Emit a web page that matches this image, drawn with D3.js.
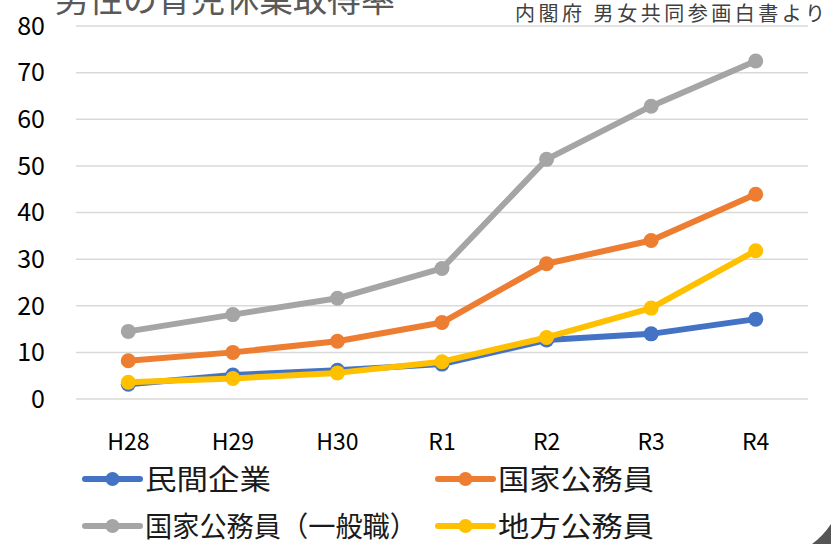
<!DOCTYPE html>
<html>
<head>
<meta charset="utf-8">
<script src="https://cdn.jsdelivr.net/npm/d3@7"></script>
<style>
  body { margin: 0; background: #fff; }
  svg { display: block; font-family: "Noto Sans CJK JP", "Noto Sans", sans-serif; }
</style>
</head>
<body>
<svg id="chart" width="831" height="544"></svg>
<script>
const categories = ['H28', 'H29', 'H30', 'R1', 'R2', 'R3', 'R4'];
const seriesNames = ['民間企業', '国家公務員', '国家公務員（一般職）', '地方公務員'];
const minkan   = [3.16, 5.14, 6.16, 7.48, 12.65, 13.97, 17.13];
const kokka    = [8.2, 10.0, 12.4, 16.4, 29.0, 34.0, 43.9];
const ippan    = [14.5, 18.1, 21.6, 28.0, 51.4, 62.8, 72.5];
const chihou   = [3.6, 4.4, 5.6, 8.0, 13.2, 19.5, 31.8];
const yTicks   = [0, 10, 20, 30, 40, 50, 60, 70, 80];
const colors   = ['#4472C4', '#ED7D31', '#A5A5A5', '#FFC000'];

const series = [minkan, kokka, ippan, chihou].map((v, i) => ({name: seriesNames[i], values: v, color: colors[i]}));

const svg = d3.select('#chart');

const x = d3.scaleBand().domain(categories).range([76, 808]);
const y = d3.scaleLinear().domain([0, 80]).range([399, 26]);
const cx = d => x(d) + x.bandwidth() / 2;

// gridlines
svg.append('g')
    .selectAll('line')
    .data(yTicks)
  .join('line')
    .attr('x1', 76).attr('x2', 808)
    .attr('y1', d => y(d)).attr('y2', d => y(d))
    .attr('stroke', '#d9d9d9')
    .attr('stroke-width', 1.5);

// y labels
svg.append('g')
    .selectAll('text')
    .data(yTicks)
  .join('text')
    .attr('x', 45)
    .attr('y', d => y(d))
    .attr('dy', '0.35em')
    .attr('text-anchor', 'end')
    .attr('font-size', 25)
    .attr('fill', '#000')
    .text(d => d);

// x labels
svg.append('g')
    .selectAll('text')
    .data(categories)
  .join('text')
    .attr('x', cx)
    .attr('y', 450)
    .attr('text-anchor', 'middle')
    .attr('font-size', 23)
    .attr('fill', '#000')
    .text(d => d);

// title + source (title is clipped at the top in the original)
svg.append('text')
    .attr('x', 55).attr('y', 12)
    .attr('font-size', 34)
    .attr('fill', '#595959')
    .text('男性の育児休業取得率');

svg.append('text')
    .attr('x', 515).attr('y', 21)
    .attr('font-size', 20)
    .attr('fill', '#404040')
    .attr('textLength', 310)
    .attr('lengthAdjust', 'spacing')
    .text('内閣府 男女共同参画白書より');

// lines
const line = d3.line()
    .x((d, i) => cx(categories[i]))
    .y(d => y(d));

const g = svg.append('g')
    .selectAll('g')
    .data(series)
  .join('g');

g.append('path')
    .attr('d', d => line(d.values))
    .attr('fill', 'none')
    .attr('stroke', d => d.color)
    .attr('stroke-width', 6)
    .attr('stroke-linejoin', 'round');

g.selectAll('circle')
    .data(d => d.values.map(v => ({v, color: d.color})))
  .join('circle')
    .attr('cx', (d, i) => cx(categories[i]))
    .attr('cy', d => y(d.v))
    .attr('r', 7.5)
    .attr('fill', d => d.color);

// legend, 2 columns
const legendPos = [[85, 479], [438, 479], [85, 526], [438, 526]];
const legendWidth = [126, 156, 272, 156];
const lg = svg.append('g')
    .selectAll('g')
    .data(series)
  .join('g')
    .attr('transform', (d, i) => 'translate(' + legendPos[i][0] + ',' + legendPos[i][1] + ')');

lg.append('line')
    .attr('x1', 0).attr('x2', 55)
    .attr('stroke', d => d.color)
    .attr('stroke-width', 6)
    .attr('stroke-linecap', 'round');

lg.append('circle')
    .attr('cx', 27.5)
    .attr('r', 7)
    .attr('fill', d => d.color);

lg.append('text')
    .attr('x', 60)
    .attr('dy', '0.38em')
    .attr('font-size', 28)
    .attr('textLength', (d, i) => legendWidth[i])
    .attr('lengthAdjust', 'spacingAndGlyphs')
    .attr('fill', '#1a1a1a')
    .text(d => d.name);

// dark rounded corner at bottom right of the screenshot
svg.append('path')
    .attr('d', 'M831,524 Q823,536 812,544 L831,544 Z')
    .attr('fill', '#555');
</script>
</body>
</html>
